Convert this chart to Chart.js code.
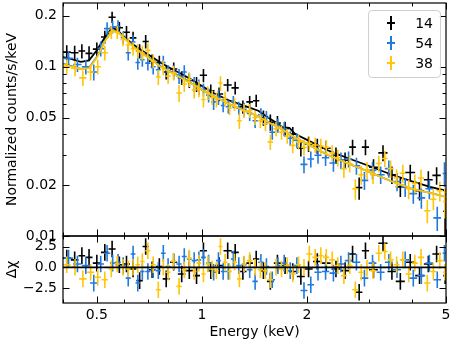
<!DOCTYPE html>
<html>
<head>
<meta charset="utf-8">
<script src="https://cdn.jsdelivr.net/npm/chart.js@4.4.0/dist/chart.umd.min.js"></script>
<style>
  body { margin: 0; background: #fff; }
  #wrap { position: relative; width: 450px; height: 345px; font-family: 'DejaVu Sans', sans-serif; }
  canvas { position: absolute; left: 0; }
  #mainChart { top: 0; }
  #residChart { top: 216px; }
  .legend { position: absolute; left: 368px; top: 10px; width: 71px; height: 66px; border: 1px solid #d0d0d0; border-radius: 4px; background: rgba(255,255,255,0.8); }
  .row { position: absolute; left: 0; width: 100%; height: 20px; }
  .mk { position: absolute; left: 21px; top: 3px; width: 2px; height: 14px; }
  .mk::after { content: ''; position: absolute; left: -3px; top: 6px; width: 8px; height: 2px; background: inherit; }
  .lbl { position: absolute; right: 7px; top: 0; font-size: 14px; line-height: 20px; color: #000; }
</style>
</head>
<body>
<div id="wrap">
  <canvas id="mainChart" width="450" height="250"></canvas>
  <canvas id="residChart" width="450" height="129"></canvas>
  <div class="legend">
    <div class="row" style="top:2px"><span class="mk" style="background:#000"></span><span class="lbl">14</span></div>
    <div class="row" style="top:22px"><span class="mk" style="background:#1f7ae0"></span><span class="lbl">54</span></div>
    <div class="row" style="top:42px"><span class="mk" style="background:#ffc508"></span><span class="lbl">38</span></div>
  </div>
</div>
<script>
// axis ticks
const energyTicks = [0.4, 0.5, 0.6, 0.7, 0.8, 0.9, 1, 2, 3, 4, 5];
const energyLabels = [0.5, 1, 2, 5];
const fluxTicks = [0.01, 0.02, 0.03, 0.04, 0.05, 0.06, 0.07, 0.08, 0.09, 0.1, 0.2];
const fluxLabels = [0.01, 0.02, 0.05, 0.1, 0.2];
const residTicks = [-2.5, 0, 2.5];

// series 14 (black)
const e14 = [0.410, 0.432, 0.453, 0.475, 0.500, 0.527, 0.553, 0.580, 0.608, 0.635, 0.663, 0.690, 0.720, 0.755, 0.790, 0.830, 0.875, 0.920, 0.965, 1.010, 1.060, 1.120, 1.185, 1.245, 1.310, 1.370, 1.430, 1.500, 1.570, 1.645, 1.730, 1.820, 1.920, 2.020, 2.140, 2.270, 2.420, 2.570, 2.700, 2.820, 2.940, 3.100, 3.300, 3.500, 3.700, 3.950, 4.200, 4.450, 4.700, 4.970];
const de14 = [0.011, 0.011, 0.010, 0.011, 0.013, 0.013, 0.013, 0.014, 0.014, 0.014, 0.014, 0.014, 0.016, 0.017, 0.018, 0.020, 0.022, 0.023, 0.022, 0.024, 0.026, 0.030, 0.032, 0.030, 0.032, 0.030, 0.030, 0.035, 0.035, 0.038, 0.043, 0.046, 0.050, 0.055, 0.060, 0.066, 0.070, 0.070, 0.060, 0.060, 0.070, 0.090, 0.100, 0.100, 0.110, 0.130, 0.120, 0.130, 0.130, 0.060];
const f14 = [0.122, 0.121, 0.124, 0.120, 0.127, 0.150, 0.196, 0.170, 0.160, 0.148, 0.124, 0.141, 0.108, 0.106, 0.093, 0.097, 0.086, 0.083, 0.079, 0.089, 0.072, 0.069, 0.078, 0.075, 0.058, 0.062, 0.063, 0.050, 0.047, 0.0465, 0.043, 0.040, 0.033, 0.035, 0.034, 0.033, 0.030, 0.028, 0.0335, 0.0193, 0.0335, 0.0255, 0.031, 0.023, 0.0195, 0.0237, 0.0185, 0.0215, 0.0228, 0.0140];
const df14 = [0.012, 0.012, 0.012, 0.012, 0.012, 0.013, 0.015, 0.014, 0.014, 0.013, 0.012, 0.013, 0.010, 0.010, 0.009, 0.009, 0.008, 0.008, 0.008, 0.008, 0.0065, 0.0065, 0.0065, 0.0065, 0.0052, 0.0052, 0.0052, 0.0052, 0.0052, 0.0046, 0.0043, 0.004, 0.0035, 0.0036, 0.0036, 0.0035, 0.0033, 0.0031, 0.0035, 0.0029, 0.0035, 0.0029, 0.0034, 0.0027, 0.0025, 0.0027, 0.0023, 0.0026, 0.0027, 0.0039];
const r14 = [1.1, 0.9, 1.4, 1.2, 0.5, 1.8, 2.2, 0.3, 0.4, -0.2, -1.6, 2.5, -0.3, 0.1, -1.4, 0.6, -0.8, -0.4, -1.0, 2.0, -0.4, 0.2, 2.0, 1.8, -0.5, 0.5, 1.0, -0.4, -1.7, 0.5, 0.2, -0.5, -1.1, -0.2, 0.7, 0.5, -0.2, -0.4, 1.6, -3.0, 2.0, -0.3, 2.9, -0.5, -1.7, 0.6, -1.0, 0.4, 1.6, -1.0];
const me14 = [0.40, 0.41, 0.45, 0.475, 0.50, 0.53, 0.555, 0.58, 0.61, 0.64, 0.68, 0.72, 0.76, 0.82, 0.88, 0.95, 1.00, 1.08, 1.20, 1.35, 1.45, 1.55, 1.65, 1.70, 1.78, 1.85, 2.00, 2.30, 2.60, 3.00, 3.50, 4.00, 4.50, 5.00];
const m14 = [0.114, 0.113, 0.107, 0.109, 0.125, 0.152, 0.171, 0.160, 0.145, 0.134, 0.123, 0.114, 0.106, 0.097, 0.090, 0.082, 0.077, 0.070, 0.063, 0.058, 0.055, 0.050, 0.046, 0.044, 0.0435, 0.040, 0.037, 0.032, 0.029, 0.026, 0.023, 0.021, 0.0195, 0.0185];

// series 54 (blue)
const e54 = [0.415, 0.440, 0.465, 0.490, 0.513, 0.535, 0.555, 0.575, 0.595, 0.615, 0.635, 0.655, 0.675, 0.700, 0.725, 0.750, 0.775, 0.800, 0.830, 0.860, 0.890, 0.920, 0.950, 0.980, 1.010, 1.045, 1.080, 1.115, 1.150, 1.190, 1.230, 1.275, 1.320, 1.370, 1.420, 1.475, 1.530, 1.590, 1.650, 1.720, 1.790, 1.870, 1.960, 2.050, 2.150, 2.260, 2.380, 2.500, 2.630, 2.770, 2.920, 3.080, 3.250, 3.430, 3.620, 3.820, 4.030, 4.250, 4.480, 4.720, 4.950];
const de54 = [0.012, 0.012, 0.012, 0.012, 0.011, 0.011, 0.010, 0.010, 0.010, 0.010, 0.010, 0.010, 0.010, 0.012, 0.012, 0.012, 0.012, 0.013, 0.015, 0.015, 0.015, 0.015, 0.015, 0.015, 0.016, 0.017, 0.017, 0.018, 0.018, 0.020, 0.020, 0.022, 0.023, 0.025, 0.025, 0.027, 0.028, 0.030, 0.030, 0.035, 0.035, 0.040, 0.045, 0.045, 0.050, 0.055, 0.060, 0.060, 0.065, 0.070, 0.075, 0.080, 0.085, 0.090, 0.095, 0.100, 0.105, 0.110, 0.115, 0.120, 0.060];
const f54 = [0.112, 0.103, 0.100, 0.093, 0.128, 0.168, 0.172, 0.173, 0.149, 0.121, 0.140, 0.106, 0.110, 0.105, 0.100, 0.096, 0.106, 0.093, 0.093, 0.088, 0.093, 0.084, 0.079, 0.076, 0.073, 0.068, 0.062, 0.066, 0.059, 0.058, 0.062, 0.057, 0.056, 0.053, 0.048, 0.052, 0.050, 0.041, 0.045, 0.043, 0.0378, 0.0368, 0.0265, 0.0285, 0.030, 0.029, 0.027, 0.028, 0.0285, 0.026, 0.0213, 0.0245, 0.023, 0.025, 0.021, 0.0195, 0.0178, 0.0168, 0.019, 0.0128, 0.0234];
const df54 = [0.012, 0.010, 0.010, 0.010, 0.013, 0.015, 0.015, 0.015, 0.013, 0.012, 0.013, 0.010, 0.010, 0.010, 0.010, 0.009, 0.010, 0.009, 0.009, 0.009, 0.009, 0.008, 0.008, 0.008, 0.0065, 0.0065, 0.0065, 0.0065, 0.0052, 0.0052, 0.0052, 0.0052, 0.0052, 0.0052, 0.0046, 0.0048, 0.0047, 0.004, 0.0043, 0.0042, 0.0038, 0.0036, 0.003, 0.0031, 0.0033, 0.0031, 0.003, 0.0031, 0.0031, 0.003, 0.0026, 0.0029, 0.0027, 0.0029, 0.0026, 0.0025, 0.0023, 0.0023, 0.0025, 0.0021, 0.0039];
const r54 = [1.1, 0.4, 0.2, -1.9, 0.4, 1.7, 0.5, 0.6, 0.2, -1.3, 1.6, -1.9, -0.5, -0.5, -0.3, -0.4, 1.7, 0.1, 0.7, 0.4, 1.3, 1.0, 0.8, 0.9, 1.2, 0.5, -0.6, 0.8, -0.5, -0.5, 1.0, 0.2, 0.3, -0.3, -1.7, 0.6, 0.1, -1.5, 0.2, 0.5, -0.4, 0.2, -2.8, -2.1, -0.6, -0.5, -0.7, 0.4, 0.8, 0.6, -1.3, 0.5, -0.6, 0.6, -0.3, 0.9, -1.3, -1.0, 0.5, -1.5, 1.7];
const me54 = [0.40, 0.41, 0.45, 0.475, 0.50, 0.53, 0.555, 0.58, 0.61, 0.64, 0.68, 0.72, 0.76, 0.82, 0.88, 0.95, 1.00, 1.08, 1.20, 1.35, 1.45, 1.55, 1.65, 1.75, 1.85, 2.00, 2.30, 2.60, 3.00, 3.50, 4.00, 4.50, 5.00];
const m54 = [0.104, 0.103, 0.097, 0.099, 0.114, 0.145, 0.165, 0.158, 0.143, 0.131, 0.119, 0.110, 0.101, 0.093, 0.086, 0.078, 0.073, 0.067, 0.060, 0.054, 0.051, 0.047, 0.044, 0.041, 0.038, 0.035, 0.030, 0.027, 0.024, 0.021, 0.019, 0.018, 0.017];

// series 38 (yellow)
const e38 = [0.410, 0.433, 0.456, 0.480, 0.503, 0.527, 0.550, 0.572, 0.594, 0.615, 0.635, 0.655, 0.675, 0.700, 0.725, 0.750, 0.775, 0.800, 0.830, 0.860, 0.890, 0.920, 0.950, 0.980, 1.010, 1.040, 1.070, 1.100, 1.130, 1.165, 1.200, 1.240, 1.280, 1.320, 1.370, 1.420, 1.470, 1.520, 1.570, 1.630, 1.690, 1.755, 1.820, 1.890, 1.960, 2.030, 2.110, 2.190, 2.270, 2.360, 2.450, 2.550, 2.650, 2.750, 2.860, 2.970, 3.090, 3.210, 3.340, 3.470, 3.610, 3.760, 3.910, 4.070, 4.240, 4.420, 4.600, 4.800, 4.960];
const de38 = [0.011, 0.011, 0.011, 0.011, 0.011, 0.011, 0.010, 0.010, 0.010, 0.010, 0.010, 0.010, 0.010, 0.012, 0.012, 0.012, 0.012, 0.013, 0.015, 0.015, 0.015, 0.015, 0.015, 0.015, 0.015, 0.015, 0.015, 0.015, 0.015, 0.018, 0.018, 0.020, 0.020, 0.020, 0.025, 0.025, 0.025, 0.025, 0.028, 0.030, 0.030, 0.033, 0.035, 0.035, 0.035, 0.040, 0.040, 0.040, 0.045, 0.045, 0.050, 0.050, 0.050, 0.055, 0.055, 0.060, 0.060, 0.065, 0.065, 0.070, 0.070, 0.075, 0.080, 0.080, 0.085, 0.090, 0.095, 0.100, 0.060];
const f38 = [0.100, 0.098, 0.086, 0.093, 0.100, 0.121, 0.160, 0.160, 0.145, 0.135, 0.128, 0.124, 0.121, 0.125, 0.108, 0.087, 0.099, 0.088, 0.092, 0.070, 0.079, 0.084, 0.073, 0.074, 0.064, 0.070, 0.066, 0.064, 0.080, 0.065, 0.057, 0.060, 0.048, 0.055, 0.055, 0.050, 0.048, 0.046, 0.036, 0.043, 0.041, 0.039, 0.0343, 0.036, 0.0334, 0.0353, 0.0345, 0.034, 0.0334, 0.031, 0.029, 0.025, 0.0268, 0.019, 0.023, 0.0245, 0.023, 0.0268, 0.0287, 0.025, 0.022, 0.0235, 0.019, 0.0205, 0.022, 0.0141, 0.0165, 0.0185, 0.016];
const df38 = [0.010, 0.010, 0.009, 0.010, 0.010, 0.012, 0.014, 0.014, 0.013, 0.013, 0.012, 0.012, 0.012, 0.012, 0.010, 0.009, 0.010, 0.009, 0.009, 0.008, 0.008, 0.008, 0.008, 0.008, 0.0065, 0.0065, 0.0065, 0.0065, 0.008, 0.0065, 0.0052, 0.0052, 0.0052, 0.0052, 0.0052, 0.0048, 0.0046, 0.0044, 0.0038, 0.0042, 0.004, 0.0039, 0.0035, 0.0036, 0.0035, 0.0036, 0.0036, 0.0035, 0.0035, 0.0034, 0.0033, 0.003, 0.0031, 0.0026, 0.0029, 0.0029, 0.0027, 0.003, 0.0031, 0.0029, 0.0027, 0.0029, 0.0025, 0.0026, 0.0027, 0.0022, 0.0023, 0.0025, 0.0033];
const r38 = [0.3, 0.0, -1.4, -0.6, -1.2, -1.5, -0.2, 0.4, 0.0, -0.2, 0.0, 0.3, 0.7, 2.0, 0.3, -2.7, 0.0, -0.6, 0.7, -2.3, -0.3, 1.1, -0.5, 0.5, -0.8, 0.4, -0.2, -0.4, 2.5, 0.6, -0.5, 0.6, -1.4, 0.4, 0.8, 0.0, -0.3, -0.4, -1.5, 0.0, -0.2, 0.2, -0.8, 0.3, 0.0, 1.6, 1.2, 1.4, 1.2, 0.9, 0.2, -1.0, 0.2, -2.7, -0.6, -0.1, -0.4, 1.7, 1.9, 0.9, 0.3, 0.9, -0.8, 0.5, 1.2, -1.9, -0.5, 0.8, -0.6];
const me38 = [0.40, 0.41, 0.45, 0.475, 0.50, 0.53, 0.555, 0.58, 0.61, 0.64, 0.68, 0.72, 0.76, 0.82, 0.88, 0.95, 1.00, 1.08, 1.20, 1.35, 1.45, 1.55, 1.65, 1.75, 1.85, 2.00, 2.30, 2.60, 3.00, 3.50, 4.00, 4.50, 5.00];
const m38 = [0.103, 0.102, 0.097, 0.098, 0.113, 0.144, 0.164, 0.157, 0.142, 0.130, 0.118, 0.109, 0.100, 0.092, 0.085, 0.078, 0.073, 0.067, 0.060, 0.054, 0.051, 0.047, 0.044, 0.041, 0.038, 0.035, 0.030, 0.027, 0.024, 0.021, 0.019, 0.018, 0.017];

const zeroLineE = [0.4, 5];
const zeroLineR = [0, 0];

const black = '#000000';
const blue = '#1f7ae0';
const yellow = '#ffc508';

Chart.defaults.font.family = "'DejaVu Sans', sans-serif";
Chart.defaults.font.size = 14;
Chart.defaults.color = '#000';

const pts = (xs, ys) => xs.map((x, i) => ({ x: x, y: ys[i] }));

// draws horizontal / vertical error bars after each dataset
const errorBars = {
    id: 'errorBars',
    afterDatasetDraw(chart, args) {
        const ds = chart.data.datasets[args.index];
        if (!ds.errX) return;
        const xs = chart.scales.x, ys = chart.scales.y, a = chart.chartArea;
        const logY = ys.type === 'logarithmic';
        const ctx = chart.ctx;
        ctx.save();
        ctx.beginPath();
        ctx.rect(a.left, a.top, a.right - a.left, a.bottom - a.top);
        ctx.clip();
        ctx.strokeStyle = ds.borderColor;
        ctx.lineWidth = 1.6;
        ctx.beginPath();
        ds.data.forEach((p, i) => {
            const ey = Array.isArray(ds.errY) ? ds.errY[i] : ds.errY;
            const lo = logY ? Math.max(p.y - ey, 1e-4) : p.y - ey;
            const px = xs.getPixelForValue(p.x), py = ys.getPixelForValue(p.y);
            ctx.moveTo(xs.getPixelForValue(p.x - ds.errX[i]), py);
            ctx.lineTo(xs.getPixelForValue(p.x + ds.errX[i]), py);
            ctx.moveTo(px, ys.getPixelForValue(lo));
            ctx.lineTo(px, ys.getPixelForValue(p.y + ey));
        });
        ctx.stroke();
        ctx.restore();
    }
};

// inward ticks on all four sides + spines
const frame = {
    id: 'frame',
    afterDraw(chart, args, opts) {
        const { ctx, chartArea: a, scales: { x, y } } = chart;
        ctx.save();
        ctx.strokeStyle = '#000';
        ctx.lineWidth = 1;
        ctx.beginPath();
        const tx = (vals, len) => vals.forEach(v => {
            const p = Math.round(x.getPixelForValue(v)) + 0.5;
            ctx.moveTo(p, a.top); ctx.lineTo(p, a.top + len);
            ctx.moveTo(p, a.bottom); ctx.lineTo(p, a.bottom - len);
        });
        const ty = (vals, len) => vals.forEach(v => {
            const p = Math.round(y.getPixelForValue(v)) + 0.5;
            ctx.moveTo(a.left, p); ctx.lineTo(a.left + len, p);
            ctx.moveTo(a.right, p); ctx.lineTo(a.right - len, p);
        });
        tx(opts.xMajor, 6.5); tx(opts.xMinor, 3.5);
        ty(opts.yMajor, 6.5); ty(opts.yMinor, 3.5);
        ctx.stroke();
        ctx.lineWidth = 1.2;
        ctx.strokeRect(a.left, a.top, a.right - a.left, a.bottom - a.top);
        ctx.restore();
    }
};

const fixWidth = w => scale => {
    scale.width = w;
    scale.paddingTop = scale.paddingBottom = scale.paddingLeft = scale.paddingRight = 0;
};
const noPad = scale => {
    scale.paddingTop = scale.paddingBottom = scale.paddingLeft = scale.paddingRight = 0;
};

const energyMinor = energyTicks.filter(v => !energyLabels.includes(v));
const fluxMinor = fluxTicks.filter(v => !fluxLabels.includes(v));

const errSet = (xs, dxs, ys, dys, color, order) => ({
    data: pts(xs, ys), errX: dxs, errY: dys, borderColor: color, backgroundColor: color,
    pointRadius: 0, showLine: false, order: order
});
const modelSet = (xs, ys, color, order) => ({
    data: pts(xs, ys), borderColor: color, backgroundColor: color,
    pointRadius: 0, showLine: true, borderWidth: 1.8, tension: 0, order: order
});

new Chart(document.getElementById('mainChart'), {
    type: 'scatter',
    data: {
        datasets: [
            errSet(e14, de14, f14, df14, black, 6),
            modelSet(me14, m14, black, 5),
            errSet(e54, de54, f54, df54, blue, 4),
            modelSet(me54, m54, blue, 3),
            errSet(e38, de38, f38, df38, yellow, 2),
            modelSet(me38, m38, yellow, 1),
        ]
    },
    plugins: [errorBars, frame],
    options: {
        responsive: false,
        animation: false,
        layout: { padding: { left: 0, right: 4, top: 3, bottom: 14 } },
        plugins: {
            legend: { display: false },
            tooltip: { enabled: false },
            frame: { xMajor: energyLabels, xMinor: energyMinor, yMajor: fluxLabels, yMinor: fluxMinor }
        },
        scales: {
            x: {
                type: 'logarithmic', min: 0.4, max: 5, display: false,
                afterFit: noPad
            },
            y: {
                type: 'logarithmic', min: 0.01, max: 0.238,
                grid: { display: false, drawTicks: false },
                border: { display: false },
                afterBuildTicks: scale => { scale.ticks = fluxTicks.map(v => ({ value: v })); },
                afterFit: fixWidth(63),
                ticks: {
                    padding: 6, autoSkip: false,
                    callback: v => fluxLabels.includes(v) ? String(v) : ''
                },
                title: { display: true, text: 'Normalized counts/s/keV', padding: { top: 4, bottom: 0 } }
            }
        }
    }
});

new Chart(document.getElementById('residChart'), {
    type: 'scatter',
    data: {
        datasets: [
            errSet(e14, de14, r14, 1, black, 7),
            errSet(e54, de54, r54, 1, blue, 6),
            errSet(e38, de38, r38, 1, yellow, 5),
            modelSet(zeroLineE, zeroLineR, black, 1),
        ]
    },
    plugins: [errorBars, frame],
    options: {
        responsive: false,
        animation: false,
        layout: { padding: { left: 0, right: 4, top: 20, bottom: 0 } },
        plugins: {
            legend: { display: false },
            tooltip: { enabled: false },
            frame: { xMajor: energyLabels, xMinor: energyMinor, yMajor: residTicks, yMinor: [] }
        },
        scales: {
            x: {
                type: 'logarithmic', min: 0.4, max: 5,
                grid: { display: false, drawTicks: false },
                border: { display: false },
                afterBuildTicks: scale => { scale.ticks = energyTicks.map(v => ({ value: v })); },
                afterFit: scale => { scale.height = 42; noPad(scale); },
                ticks: {
                    padding: 4, autoSkip: false, maxRotation: 0,
                    callback: v => energyLabels.includes(v) ? String(v) : ''
                },
                title: { display: true, text: 'Energy (keV)', padding: { top: 0, bottom: 4 } }
            },
            y: {
                min: -4.3, max: 3.77,
                grid: { display: false, drawTicks: false },
                border: { display: false },
                afterBuildTicks: scale => { scale.ticks = residTicks.map(v => ({ value: v })); },
                afterFit: fixWidth(63),
                ticks: {
                    padding: 6, autoSkip: false,
                    callback: v => v === 0 ? '0.0' : (v < 0 ? '\u2212' + Math.abs(v).toFixed(1) : v.toFixed(1))
                },
                title: { display: true, text: '\u0394\u03c7', padding: { top: 4, bottom: 0 } }
            }
        }
    }
});
</script>
</body>
</html>
